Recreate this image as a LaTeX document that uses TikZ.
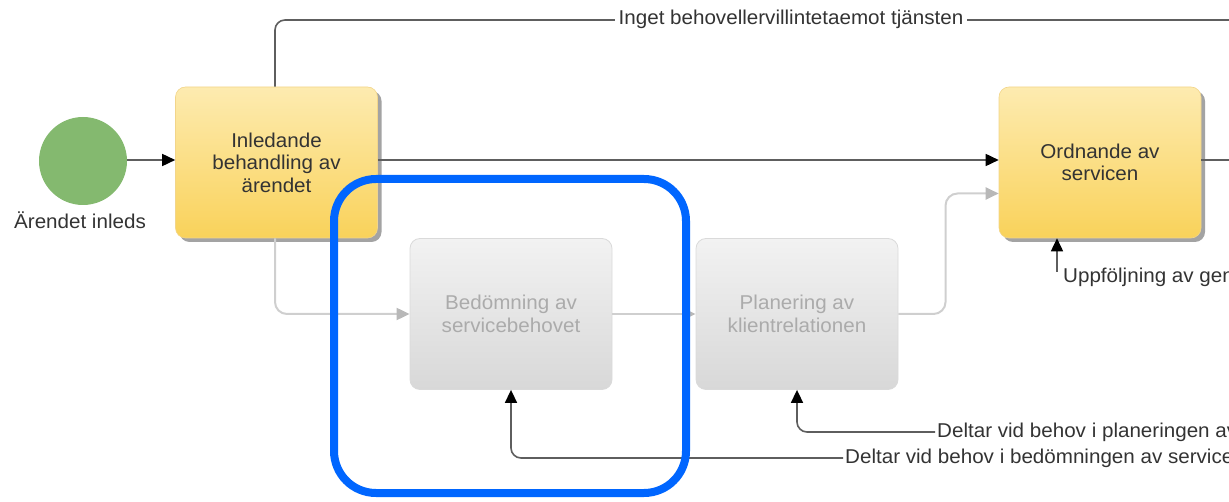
\documentclass[tikz,border=0pt]{standalone}
\usepackage{fontspec}
\setmainfont{Liberation Sans}[FakeStretch=1.03]
\usetikzlibrary{arrows.meta,calc,shadows}
\definecolor{lineDark}{HTML}{5E5E5E}
\definecolor{lineLight}{HTML}{CFCFCF}
\definecolor{tipLight}{HTML}{B8B8B8}
\definecolor{txtDark}{HTML}{333333}
\definecolor{txtLight}{HTML}{ABABAB}
\definecolor{yelTop}{HTML}{FDEBB0}
\definecolor{yelBot}{HTML}{F9D25A}
\definecolor{yelEdge}{HTML}{F2D58A}
\definecolor{grayTop}{HTML}{F2F2F2}
\definecolor{grayBot}{HTML}{D8D8D8}
\definecolor{grayEdge}{HTML}{DADADA}
\definecolor{startGreen}{HTML}{84B96F}
\definecolor{focusBlue}{HTML}{0066FF}
\tikzset{
  basefont/.style={font=\fontsize{20}{22.5}\selectfont},
  activetask/.style={basefont, rectangle, rounded corners=10pt, minimum width=202pt,
    minimum height=151pt, align=center, text=txtDark, draw=yelEdge, line width=0.6pt,
    top color=yelTop, bottom color=yelBot,
    drop shadow={shadow xshift=4pt, shadow yshift=-4pt, fill=black!45, opacity=0.8}},
  idletask/.style={basefont, rectangle, rounded corners=10pt, minimum width=202pt,
    minimum height=151pt, align=center, text=txtLight, draw=grayEdge, line width=0.8pt,
    top color=grayTop, bottom color=grayBot},
  flow/.style={draw=lineDark, line width=1.6pt, rounded corners=10pt,
    -{Triangle[length=13pt,width=12pt,color=black]}},
  flowplain/.style={draw=lineDark, line width=1.6pt, rounded corners=10pt},
  flowidle/.style={draw=lineLight, line width=2pt, rounded corners=12pt,
    -{Triangle[length=13pt,width=12pt,color=tipLight]}},
  lbl/.style={basefont, text=txtDark, inner sep=2pt},
}
\begin{document}
\begin{tikzpicture}[x=1pt,y=-1pt]
\useasboundingbox (0,0) rectangle (1229,502);
\clip (0,0) rectangle (1229,502);

% start event
\node[circle, fill=startGreen, minimum size=88pt, inner sep=0] (start) at (83,161) {};
\node[lbl] (startlbl) at (80,220) {Ärendet inleds};

% tasks
\node[activetask] (init) at (276.5,162.5) {Inledande\\behandling av\\ärendet};
\node[activetask] (order) at (1100,162.5) {Ordnande av\\servicen};
\node[idletask] (assess) at (511,314) {Bedömning av\\servicebehovet};
\node[idletask] (plan) at (797,314) {Planering av\\klientrelationen};

% loose ends running off the right edge
\coordinate (topEnd) at (1240,20);
\coordinate (rightEnd) at (1240,160);
\coordinate (followUp) at (1057,272);

% main flow
\draw[flow] (start.east |- 0,160) -- (init.west |- 0,160);
\draw[flow] (init.east |- 0,160) -- (order.west |- 0,160);
\draw[flowplain] (init.north -| 275,0) |- (topEnd);
\draw[flowplain] (order.east |- 0,160) -- (rightEnd);

% alternative path through assessment and planning
\draw[flowidle] (init.south -| 275,0) |- (assess.west);
\draw[flowidle] (assess.east) -- (plan.west);
\draw[flowidle] (plan.east) -- ($(plan.east)!0.47!(plan.east -| order.west)$)
  |- ($(order.west)+(0,31)$);

% message labels
\node[lbl, fill=white, inner xsep=4pt] (lblTop) at (791,19) {Inget behovellervillintetaemot tjänsten};
\node[lbl, anchor=west] (lblPlan) at (935,432) {Deltar vid behov i planeringen av};
\node[lbl, anchor=west] (lblAssess) at (843,458) {Deltar vid behov i bedömningen av service};
\node[lbl, anchor=west] (lblFollow) at (1061,277) {Uppföljning av gen};

\draw[flow] (lblPlan.west) -| (plan.south);
\draw[flow] (lblAssess.west) -| (assess.south);
\draw[flow] (followUp) -- (order.south -| followUp);

% highlight frame
\draw[focusBlue, line width=8pt, rounded corners=42pt] (334,179) rectangle (686,493);
\end{tikzpicture}
\end{document}
